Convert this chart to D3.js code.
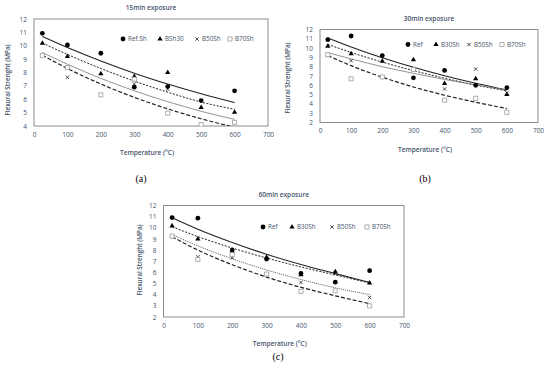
<!DOCTYPE html>
<html>
<head>
<meta charset="utf-8">
<script src="https://cdn.jsdelivr.net/npm/d3@7"></script>
<style>
  body { margin: 0; background: #fff; }
  svg { display: block; font-family: "Open Sans", "Liberation Sans", sans-serif; }
</style>
</head>
<body>
<svg></svg>
<script>
// temperatures (x values) used by every panel
const temps = [25, 100, 200, 300, 400, 500, 600];
const xTicks = [0, 100, 200, 300, 400, 500, 600, 700];

// 15 min exposure
const names15 = ["Ref.Sh", "BSh30", "B50Sh", "B70Sh"];
const ref15   = [10.93, 10.06, 9.44, 6.9, 6.95, 5.9, 6.63];
const b30_15  = [10.18, 9.19, 7.9, 7.7, 8.0, 5.38, 5.03];
const b50_15  = [9.25, 7.64, 6.3, 7.15, 6.75, 4.1, 3.7];
const b70_15  = [9.26, 8.37, 6.33, 7.5, 4.96, 4.1, 4.27];
// trend lines
const tRef15 = [10.7, 9.87, 8.86, 7.95, 7.14, 6.41, 5.75];
const tB30_15 = [10.2, 9.35, 8.3, 7.36, 6.53, 5.79, 5.25];
const tB50_15 = [9.3, 8.3, 7.14, 6.14, 5.28, 4.54, 3.9];
const tB70_15 = [9.5, 8.62, 7.56, 6.63, 5.82, 5.1, 4.5];

// 30 min exposure
const names30 = ["Ref", "B30Sh", "B50Sh", "B70Sh"];
const ref30  = [10.9, 11.3, 9.2, 6.8, 7.6, 6.0, 5.75];
const b30_30 = [10.2, 9.4, 8.6, 8.75, 6.2, 6.7, 5.0];
const b50_30 = [9.2, 8.65, 6.9, 7.8, 5.6, 7.75, 5.2];
const b70_30 = [9.3, 6.7, 6.9, 7.7, 4.4, 4.6, 3.1];
const tRef30 = [11.1, 10.13, 8.96, 7.94, 7.03, 6.22, 5.5];
const tB30_30 = [10.4, 9.53, 8.5, 7.58, 6.76, 6.03, 5.4];
const tB50_30 = [9.5, 8.84, 8.0, 7.29, 6.63, 6.03, 5.5];
const tB70_30 = [9.2, 8.11, 6.87, 5.82, 4.93, 4.18, 3.5];

// 60 min exposure
const names60 = ["Ref", "B30Sh", "B50Sh", "B70Sh"];
const ref60  = [10.92, 10.86, 8.0, 7.2, 5.9, 5.12, 6.15];
const b30_60 = [10.17, 9.0, 7.9, 7.35, 5.8, 6.05, 5.05];
const b50_60 = [9.2, 7.4, 7.3, 5.8, 5.1, 5.9, 3.75];
const b70_60 = [9.25, 7.15, 7.6, 5.85, 4.3, 4.35, 3.0];
const tRef60 = [10.9, 9.87, 8.68, 7.62, 6.7, 5.89, 5.1];
const tB30_60 = [10.1, 9.21, 8.19, 7.29, 6.49, 5.77, 5.05];
const tB50_60 = [9.4, 8.38, 7.22, 6.22, 5.36, 4.62, 4.0];
const tB70_60 = [9.2, 8.0, 6.69, 5.58, 4.66, 3.9, 3.2];

let svg = d3.select("svg").attr("width", 550).attr("height", 368);
let textColor = "#44546a";

// marker and line styles per series position
let markers = [
  { type: d3.symbolCircle, size: 18, fill: "#000", stroke: "none" },
  { type: d3.symbolTriangle, size: 12, fill: "#000", stroke: "none" },
  { type: d3.symbolTimes, size: 9, fill: "none", stroke: "#222" },
  { type: d3.symbolSquare, size: 17, fill: "#fff", stroke: "#999" }
];

let panels = [
  {
    id: "a", title: "15min exposure", names: names15,
    values: [ref15, b30_15, b50_15, b70_15],
    trends: [tRef15, tB30_15, tB50_15, tB70_15],
    lineStyles: [
      { dash: null, width: 1.1, color: "#222" },
      { dash: "2,1.5", width: 1, color: "#222" },
      { dash: "4,2", width: 1.2, color: "#222" },
      { dash: null, width: 0.8, color: "#777" }
    ],
    x0: 34, x1: 268, yTop: 19, yBot: 126, yMin: 4, yMax: 12,
    legendY: 39, legendX: [123, 160, 197, 230],
    labelX: 141, labelY: 182, yTitleX: 8, yTitleY: 80
  },
  {
    id: "b", title: "30min exposure", names: names30,
    values: [ref30, b30_30, b50_30, b70_30],
    trends: [tRef30, tB30_30, tB50_30, tB70_30],
    lineStyles: [
      { dash: null, width: 1.1, color: "#222" },
      { dash: "2,1.5", width: 1, color: "#222" },
      { dash: null, width: 0.8, color: "#777" },
      { dash: "4,2", width: 1.2, color: "#222" }
    ],
    x0: 320, x1: 538, yTop: 29.5, yBot: 122.5, yMin: 2, yMax: 12,
    legendY: 44.5, legendX: [408, 436, 469, 502],
    labelX: 425, labelY: 182, yTitleX: 288, yTitleY: 78
  },
  {
    id: "c", title: "60min exposure", names: names60,
    values: [ref60, b30_60, b50_60, b70_60],
    trends: [tRef60, tB30_60, tB50_60, tB70_60],
    lineStyles: [
      { dash: null, width: 1.1, color: "#222" },
      { dash: "2,1.5", width: 1, color: "#222" },
      { dash: "1,1", width: 0.9, color: "#444" },
      { dash: "4,2", width: 1.2, color: "#222" }
    ],
    x0: 163.5, x1: 404, yTop: 205.5, yBot: 317, yMin: 2, yMax: 12,
    legendY: 227, legendX: [263, 292, 332, 367],
    labelX: 278, labelY: 360, yTitleX: 140, yTitleY: 260
  }
];

panels.forEach(drawPanel);

function drawPanel(p) {
  let x = d3.scaleLinear().domain([0, 700]).range([p.x0, p.x1]);
  let y = d3.scaleLinear().domain([p.yMin, p.yMax]).range([p.yBot, p.yTop]);
  let g = svg.append("g").attr("id", "panel-" + p.id);

  // clip so points/lines below the axis minimum are hidden like in Excel
  svg.append("clipPath").attr("id", "clip-" + p.id)
    .append("rect")
    .attr("x", p.x0).attr("y", p.yTop)
    .attr("width", p.x1 - p.x0).attr("height", p.yBot - p.yTop);

  // axes (labels only)
  let gx = g.append("g")
    .attr("transform", translate(0, p.yBot + 3))
    .call(d3.axisBottom(x).tickValues(xTicks).tickSize(0));
  let yTicks = d3.range(p.yMin, p.yMax + 1, 1);
  let gy = g.append("g")
    .attr("transform", translate(p.x0 - 4, 0))
    .call(d3.axisLeft(y).tickValues(yTicks).tickSize(0));
  [gx, gy].forEach(function(a) {
    a.select(".domain").remove();
    a.selectAll("text")
      .attr("fill", textColor)
      .style("font-size", "6.5px")
      .style("font-family", "\"Open Sans\", sans-serif");
  });

  // plot frame
  g.append("rect")
    .attr("x", p.x0).attr("y", p.yTop)
    .attr("width", p.x1 - p.x0).attr("height", p.yBot - p.yTop)
    .attr("fill", "none").attr("stroke", "#8c8c8c").attr("stroke-width", 1);

  let plot = g.append("g").attr("clip-path", "url(#clip-" + p.id + ")");

  // trend lines
  let line = d3.line()
    .x(function(d, i) { return x(temps[i]); })
    .y(function(d) { return y(d); })
    .curve(d3.curveMonotoneX);
  p.trends.forEach(function(t, k) {
    let s = p.lineStyles[k];
    plot.append("path")
      .datum(t)
      .attr("fill", "none")
      .attr("stroke", s.color)
      .attr("stroke-width", s.width)
      .attr("stroke-dasharray", s.dash)
      .attr("d", line);
  });

  // points
  p.values.forEach(function(vals, k) {
    let m = markers[k];
    plot.append("g")
      .selectAll("path")
      .data(vals)
      .enter()
      .append("path")
      .attr("transform", function(d, i) { return translate(x(temps[i]), y(d)); })
      .attr("d", d3.symbol().type(m.type).size(m.size))
      .attr("fill", m.fill)
      .attr("stroke", m.stroke)
      .attr("stroke-width", 0.8);
  });

  // legend
  p.names.forEach(function(n, k) {
    let m = markers[k];
    let lx = p.legendX[k];
    g.append("path")
      .attr("transform", translate(lx, p.legendY))
      .attr("d", d3.symbol().type(m.type).size(m.size))
      .attr("fill", m.fill)
      .attr("stroke", m.stroke)
      .attr("stroke-width", 0.8);
    g.append("text")
      .attr("x", lx + 5).attr("y", p.legendY + 2.2)
      .attr("fill", textColor)
      .style("font-size", "6.3px")
      .text(n);
  });

  // titles
  let cx = (p.x0 + p.x1) / 2;
  g.append("text")
    .attr("x", cx).attr("y", p.yTop - 9)
    .attr("text-anchor", "middle")
    .attr("fill", textColor)
    .style("font-size", "6.5px")
    .style("font-weight", "600")
    .text(p.title);
  g.append("text")
    .attr("x", cx - 4).attr("y", p.yBot + 29)
    .attr("text-anchor", "middle")
    .attr("fill", textColor)
    .style("font-size", "6.5px")
    .style("font-weight", "600")
    .text("Temperature (°C)");
  g.append("text")
    .attr("transform", translate(p.yTitleX, p.yTitleY) + " rotate(-90)")
    .attr("text-anchor", "middle")
    .attr("dy", "0.35em")
    .attr("fill", textColor)
    .style("font-size", "6.3px")
    .style("font-weight", "600")
    .text("Flexural Strenght (MPa)");

  // panel label
  g.append("text")
    .attr("x", p.labelX).attr("y", p.labelY)
    .attr("text-anchor", "middle")
    .attr("fill", "#000")
    .style("font-family", "\"Liberation Serif\", \"DejaVu Serif\", serif")
    .style("font-size", "10px")
    .text("(" + p.id + ")");
}

function translate(x, y) {
  return "translate(" + x + "," + y + ")";
}
</script>
</body>
</html>
